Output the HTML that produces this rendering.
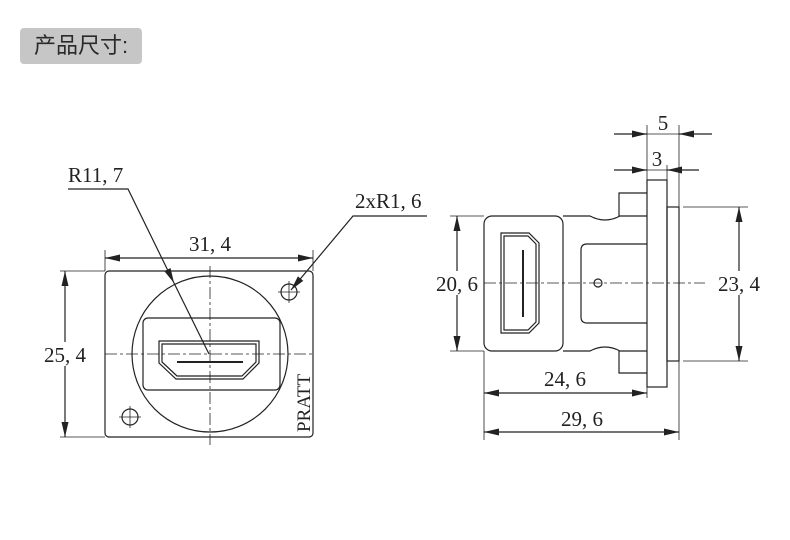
<!DOCTYPE html>
<html><head><meta charset="utf-8"><style>
html,body{margin:0;padding:0;background:#fff;}
.hd{position:absolute;left:20px;top:28px;width:122px;height:36px;background:#c6c6c6;border-radius:4px;font:22px "Liberation Sans","Noto Sans CJK SC",sans-serif;color:#2a2a2a;line-height:36px;text-align:center;}
</style></head><body>
<div style="position:relative;width:790px;height:540px;overflow:hidden">
<div class="hd">产品尺寸:</div>
<svg width="790" height="540" style="position:absolute;left:0;top:0" font-family="Liberation Serif,serif" font-size="21" fill="none" stroke="#222" stroke-width="1.2">
<defs><marker id="a" markerWidth="15" markerHeight="7" refX="15" refY="3.5" orient="auto" markerUnits="userSpaceOnUse"><path d="M0,0L15,3.5L0,7z" fill="#222" stroke="none"/></marker></defs>
<!-- left view -->
<rect x="105" y="271" width="208" height="166" rx="4"/>
<circle cx="210" cy="354" r="78"/>
<rect x="143" y="318" width="137" height="72" rx="5"/>
<path d="M159,341H259V363L243,379H176L159,363Z"/>
<path d="M162,344H256V362L242,376H177L162,362Z"/>
<path d="M177,362H243" stroke-width="2"/>
<g stroke-width="0.8" stroke-dasharray="12,3,3,3"><path d="M210,266V445M105,354H313"/></g>
<circle cx="289" cy="292" r="8"/><path d="M278,292H300M289,281V303" stroke-width="0.8"/>
<circle cx="130" cy="417" r="8"/><path d="M119,417H141M130,406V428" stroke-width="0.8"/>
<path d="M105,250V271M313,250V271" stroke-width="0.8"/>
<path d="M210,258H105" marker-end="url(#a)"/><path d="M210,258H313" marker-end="url(#a)"/>
<path d="M60,271H105M60,437H105" stroke-width="0.8"/>
<path d="M65,354V271" marker-end="url(#a)"/><path d="M65,354V437" marker-end="url(#a)"/>
<path d="M68,189H128L174,283" marker-end="url(#a)"/><path d="M174,283L209,354"/>
<path d="M427,216H353L291,290" marker-end="url(#a)"/>
<!-- right view -->
<rect x="647" y="180" width="20" height="207"/>
<rect x="667" y="207" width="12" height="154"/>
<rect x="484" y="216" width="79" height="135" rx="8"/>
<path d="M563,216H590Q605,224 620,216H647M563,351H590Q605,343 620,351H647"/>
<path d="M619,216V193H647M619,351V373H647"/>
<path d="M647,244H587Q581,244 581,250V317Q581,323 587,323H647"/>
<circle cx="598" cy="283" r="4"/>
<path d="M501,233H529L539,243V323L529,333H501Z"/>
<path d="M504,236H528L536,244V322L528,330H504Z"/>
<path d="M523,250V317" stroke-width="2"/>
<g stroke-width="0.8" stroke-dasharray="12,3,3,3"><path d="M484,283H705"/></g>
<path d="M450,216H484M450,351H484" stroke-width="0.8"/>
<path d="M457,283V216" marker-end="url(#a)"/><path d="M457,283V351" marker-end="url(#a)"/>
<path d="M683,207H748M683,361H748" stroke-width="0.8"/>
<path d="M739,283V207" marker-end="url(#a)"/><path d="M739,283V361" marker-end="url(#a)"/>
<path d="M484,351V440M647,387V398M679,361V440" stroke-width="0.8"/>
<path d="M565,393H484" marker-end="url(#a)"/><path d="M565,393H647" marker-end="url(#a)"/>
<path d="M580,432H484" marker-end="url(#a)"/><path d="M580,432H679" marker-end="url(#a)"/>
<path d="M647,125V180M679,125V207M667,165V180" stroke-width="0.8"/>
<path d="M614,134H647" marker-end="url(#a)"/><path d="M712,134H679" marker-end="url(#a)"/><path d="M647,134H679" stroke-width="0.8"/>
<path d="M614,170H647" marker-end="url(#a)"/><path d="M699,170H667" marker-end="url(#a)"/><path d="M647,170H667" stroke-width="0.8"/>
<g fill="#222" stroke="none">
<text x="68" y="182">R11, 7</text>
<text x="355" y="208">2xR1, 6</text>
<text x="210" y="251" text-anchor="middle">31, 4</text>
<rect x="40" y="342" width="50" height="24" fill="#fff"/>
<text x="65" y="362" text-anchor="middle">25, 4</text>
<text transform="translate(310,432) rotate(-90)" font-size="19">PRATT</text>
<rect x="432" y="271" width="50" height="24" fill="#fff"/>
<text x="457" y="291" text-anchor="middle">20, 6</text>
<rect x="714" y="271" width="50" height="24" fill="#fff"/>
<text x="739" y="291" text-anchor="middle">23, 4</text>
<text x="565" y="386" text-anchor="middle">24, 6</text>
<text x="582" y="426" text-anchor="middle">29, 6</text>
<text x="663" y="130" text-anchor="middle">5</text>
<text x="657" y="166" text-anchor="middle">3</text>
</g>
</svg>
</div>
</body></html>
